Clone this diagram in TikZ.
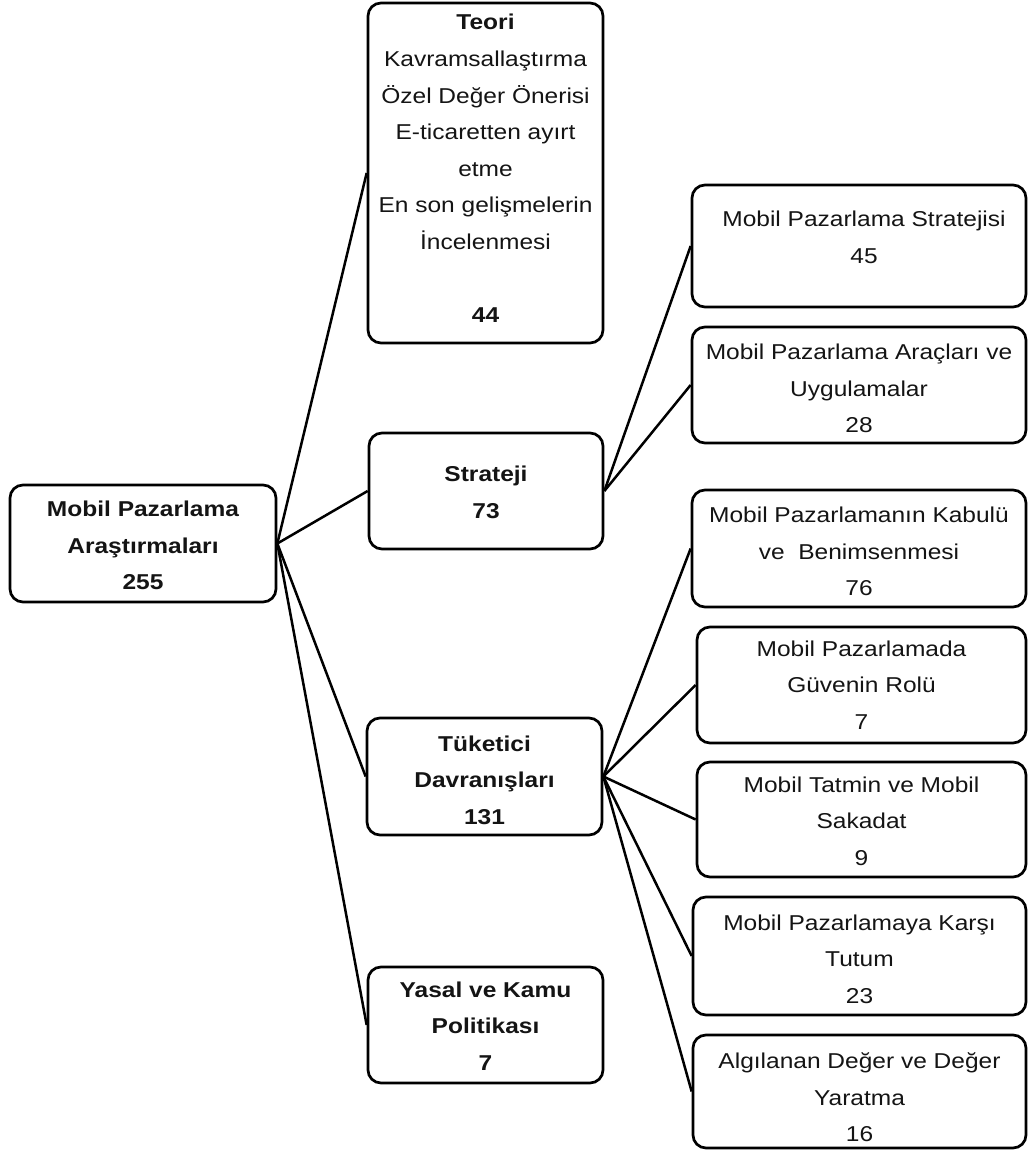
\documentclass[tikz,border=0pt]{standalone}
\usepackage{fontspec}
\setmainfont{Liberation Sans}[FakeStretch=1.14]
\begin{document}
\begin{tikzpicture}[x=1pt,y=-1pt,
  box/.style={draw=black,line width=2.7pt,rounded corners=13pt,inner sep=0pt},
  txt/.style={align=center,inner sep=0pt,text=black!92,
    font=\fontsize{21.5}{36.6}\selectfont},
  btxt/.style={txt,font=\fontsize{21.5}{36.6}\selectfont\bfseries},
  link/.style={draw=black,line width=2.5pt}]
\useasboundingbox (0,0) rectangle (1028,1151);

% root
\node[box,minimum width=266pt,minimum height=117pt] (root) at (143,543.5) {};
\node[btxt] (roott) at (143,545.5) {Mobil Pazarlama\\Araştırmaları\\255};

% middle column
\node[box,minimum width=235pt,minimum height=340pt] (teori) at (485.5,173) {};
\node[txt] (teorit) at (485.5,168.5) {\textbf{Teori}\\Kavramsallaştırma\\Özel Değer Önerisi\\E-ticaretten ayırt\\etme\\En son gelişmelerin\\İncelenmesi\\[36.6pt]\textbf{44}};

\node[box,minimum width=234pt,minimum height=116pt] (strat) at (486,491) {};
\node[btxt] (stratt) at (486,492.5) {Strateji\\73};

\node[box,minimum width=235pt,minimum height=117pt] (tuk) at (484.5,776.5) {};
\node[btxt] (tukt) at (484.5,780) {Tüketici\\Davranışları\\131};

\node[box,minimum width=235pt,minimum height=116pt] (yasal) at (485.5,1025) {};
\node[btxt] (yasalt) at (485.5,1026) {Yasal ve Kamu\\Politikası\\7};

% right column
\node[box,minimum width=334pt,minimum height=122pt] (s1) at (859,246) {};
\node[txt] (s1t) at (864,237.5) {Mobil Pazarlama Stratejisi\\45};

\node[box,minimum width=334pt,minimum height=116pt] (s2) at (859,385) {};
\node[txt] (s2t) at (859,388.5) {Mobil Pazarlama Araçları ve\\Uygulamalar\\28};

\node[box,minimum width=334pt,minimum height=117pt] (c1) at (859,548.5) {};
\node[txt] (c1t) at (859,551.5) {Mobil Pazarlamanın Kabulü\\ve\ \ Benimsenmesi\\76};

\node[box,minimum width=329pt,minimum height=116pt] (c2) at (861.5,685) {};
\node[txt] (c2t) at (861.5,685) {Mobil Pazarlamada\\Güvenin Rolü\\7};

\node[box,minimum width=329pt,minimum height=115pt] (c3) at (861.5,819.5) {};
\node[txt] (c3t) at (861.5,821) {Mobil Tatmin ve Mobil\\Sakadat\\9};

\node[box,minimum width=333pt,minimum height=118pt] (c4) at (859.5,956) {};
\node[txt] (c4t) at (859.5,959) {Mobil Pazarlamaya Karşı\\Tutum\\23};

\node[box,minimum width=333pt,minimum height=113pt] (c5) at (859.5,1091.5) {};
\node[txt] (c5t) at (859.5,1097.5) {Algılanan Değer ve Değer\\Yaratma\\16};

% connectors
\foreach \t in {teori,strat,tuk,yasal}
  \draw[link] (root.east) -- (\t.west);
\foreach \t in {s1,s2}
  \draw[link] (strat.east) -- (\t.west);
\foreach \t in {c1,c2,c3,c4,c5}
  \draw[link] (tuk.east) -- (\t.west);
\end{tikzpicture}
\end{document}
